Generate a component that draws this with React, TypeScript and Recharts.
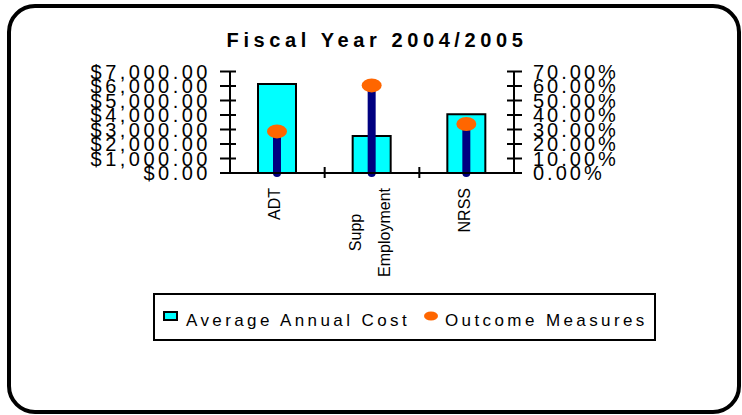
import React from 'react';
import { ComposedChart, Bar, XAxis, YAxis, Legend } from 'recharts';

// ---- data ----
const categories = ['ADT', 'Supp\nEmployment', 'NRSS'];
const averageAnnualCost = [6130, 2550, 4060];
const outcomeMeasures = [28.7, 60.4, 33.8];
const costTicks = [0, 1000, 2000, 3000, 4000, 5000, 6000, 7000];
const outcomeTicks = [0, 10, 20, 30, 40, 50, 60, 70];
const seriesNames = ['Average Annual Cost', 'Outcome Measures'];
const title = 'Fiscal Year 2004/2005';

const data = categories.map((c, i) => ({
  category: c,
  cost: averageAnnualCost[i],
  outcome: outcomeMeasures[i],
}));

// ---- layout / style ----
const FONT = '"Liberation Sans", Arial, Helvetica, sans-serif';
const W = 742;
const H = 415;
const LEFT_W = 230;
const RIGHT_W = 228;
const TOP = 71.5;
const X_AXIS_H = 242;
const PLOT_W = W - LEFT_W - RIGHT_W;
const CYAN = '#00FFFF';
const NAVY = '#000080';
const ORANGE = '#FF6600';

const fmtCost = (v: number) =>
  '$' + v.toLocaleString('en-US', { minimumFractionDigits: 2, maximumFractionDigits: 2 });
const fmtPct = (v: number) => v.toFixed(2) + '%';

let ctx: CanvasRenderingContext2D | null = null;
const textWidth = (s: string, font: string) => {
  if (!ctx) ctx = document.createElement('canvas').getContext('2d');
  if (!ctx) return s.length * 8;
  ctx.font = font;
  return ctx.measureText(s).width;
};

const LeftTick = (props: any) => {
  const { x, y, payload } = props;
  return (
    <g>
      <line x1={x - 10} x2={x + 6} y1={y} y2={y} stroke="#000" strokeWidth={2} />
      <text x={x - 19} y={y} dy={7} textAnchor="end" fontSize={20} letterSpacing={3.5} fontFamily={FONT} fill="#000">
        {fmtCost(payload.value)}
      </text>
    </g>
  );
};

const RightTick = (props: any) => {
  const { x, y, payload } = props;
  return (
    <g>
      <line x1={x - 7} x2={x + 8} y1={y} y2={y} stroke="#000" strokeWidth={2} />
      <text x={x + 19} y={y} dy={7} textAnchor="start" fontSize={20} letterSpacing={3} fontFamily={FONT} fill="#000">
        {fmtPct(payload.value)}
      </text>
    </g>
  );
};

const XTick = (props: any) => {
  const { x, y, payload } = props;
  const index = props.index ?? payload.index ?? 0;
  const n = categories.length;
  const band = PLOT_W / n;
  const lines = String(payload.value).split('\n');
  const font = `16px ${FONT}`;
  const maxW = Math.max(...lines.map((l) => textWidth(l, font)));
  const cy = y + 15 + maxW / 2;
  return (
    <g>
      {index < n - 1 && (
        <line x1={x + band / 2} x2={x + band / 2} y1={y - 6} y2={y + 5} stroke="#000" strokeWidth={2} />
      )}
      {lines.map((l, i) => {
        const lx = x - 2.5 + (i - (lines.length - 1) / 2) * 29;
        return (
          <text
            key={i}
            x={lx}
            y={cy}
            dy="0.35em"
            transform={`rotate(-90, ${lx}, ${cy})`}
            textAnchor="middle"
            fontSize={16}
            fontFamily={FONT}
            fill="#000"
          >
            {l}
          </text>
        );
      })}
    </g>
  );
};

const OutcomeShape = (props: any) => {
  const { x, y, width, height } = props;
  const cx = x + width / 2;
  const base = y + height;
  return (
    <g>
      <line x1={cx} x2={cx} y1={base} y2={y} stroke={NAVY} strokeWidth={8} strokeLinecap="round" />
      <ellipse cx={cx} cy={y} rx={10} ry={7} fill={ORANGE} />
    </g>
  );
};

const LegendContent = () => (
  <svg width={503} height={48} style={{ display: 'block' }}>
    <rect x={1} y={1} width={501} height={46} fill="#fff" stroke="#000" strokeWidth={2} />
    <rect x={11} y={19} width={13} height={8} fill={CYAN} stroke="#000" strokeWidth={2} />
    <text x={33} y={33} fontSize={17} letterSpacing={3.4} fontFamily={FONT} fill="#000">
      {seriesNames[0]}
    </text>
    <ellipse cx={278} cy={23} rx={7} ry={4.5} fill={ORANGE} />
    <text x={292} y={33} fontSize={17} letterSpacing={3.4} fontFamily={FONT} fill="#000">
      {seriesNames[1]}
    </text>
  </svg>
);

export default function App() {
  return (
    <div style={{ position: 'absolute', left: 0, top: 0, width: W, height: H, background: '#fff' }}>
      <div
        style={{
          position: 'absolute',
          left: 7,
          top: 4,
          width: 734,
          height: 410,
          boxSizing: 'border-box',
          border: '4px solid #000',
          borderRadius: 28,
        }}
      />
      <div style={{ position: 'absolute', left: 0, top: 0 }}>
        <ComposedChart
          width={W}
          height={H}
          data={data}
          margin={{ top: TOP, right: 0, bottom: 0, left: 0 }}
          barGap={-38}
          barCategoryGap={0}
        >
          <text
            x={377}
            y={47}
            textAnchor="middle"
            fontSize={20}
            fontWeight="bold"
            letterSpacing={4.6}
            fontFamily={FONT}
            fill="#000"
          >
            {title}
          </text>
          <XAxis
            dataKey="category"
            height={X_AXIS_H}
            tickSize={0}
            tickMargin={0}
            tickLine={false}
            interval={0}
            axisLine={{ stroke: '#000', strokeWidth: 2 }}
            tick={<XTick />}
          />
          <YAxis
            yAxisId="left"
            width={LEFT_W}
            domain={[0, 7000]}
            ticks={costTicks}
            interval={0}
            tickSize={0}
            tickMargin={0}
            tickLine={false}
            axisLine={{ stroke: '#000', strokeWidth: 2 }}
            tick={<LeftTick />}
          />
          <YAxis
            yAxisId="right"
            orientation="right"
            width={RIGHT_W}
            domain={[0, 70]}
            ticks={outcomeTicks}
            interval={0}
            tickSize={0}
            tickMargin={0}
            tickLine={false}
            axisLine={{ stroke: '#000', strokeWidth: 2 }}
            tick={<RightTick />}
          />
          <Legend
            layout="horizontal"
            verticalAlign="middle"
            align="center"
            wrapperStyle={{ left: 153, top: 293, width: 503, height: 48 }}
            content={<LegendContent />}
          />
          <Bar
            yAxisId="left"
            dataKey="cost"
            name={seriesNames[0]}
            barSize={38}
            fill={CYAN}
            stroke="#000"
            strokeWidth={2}
            isAnimationActive={false}
          />
          <Bar
            yAxisId="right"
            dataKey="outcome"
            name={seriesNames[1]}
            barSize={38}
            shape={<OutcomeShape />}
            isAnimationActive={false}
          />
        </ComposedChart>
      </div>
    </div>
  );
}
